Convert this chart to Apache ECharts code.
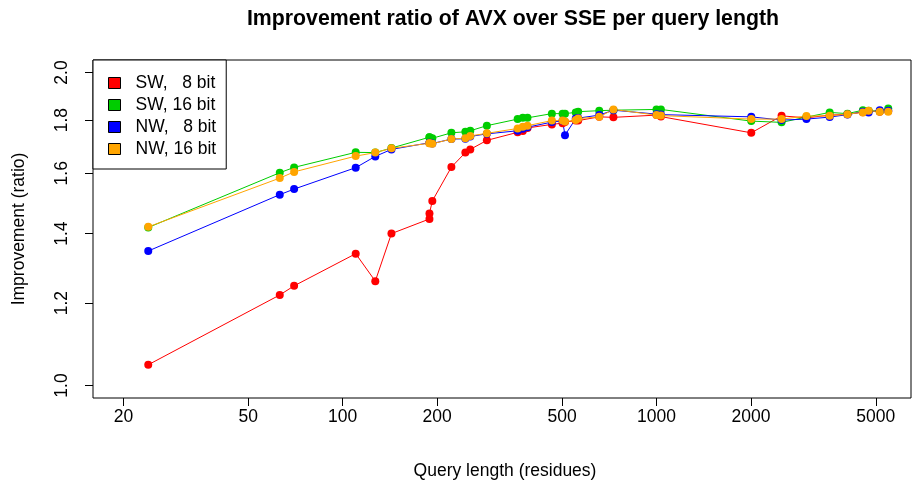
<!DOCTYPE html>
<html>
<head>
<meta charset="utf-8">
<script src="https://cdn.jsdelivr.net/npm/echarts@6/dist/echarts.min.js"></script>
<style>
  html, body { margin: 0; padding: 0; background: #ffffff; }
  #chart { width: 913px; height: 486px; }
</style>
</head>
<body>
<div id="chart"></div>
<script>
// Query lengths (residues) of the benchmark queries
const queryLengths = [24, 63, 70, 110, 127, 143, 189, 189, 193, 222, 246, 255, 288,
  361, 375, 388, 464, 502, 511, 553, 563, 657, 729, 1000, 1033,
  2005, 2504, 3005, 3564, 4061, 4548, 4743, 5147, 5478];

// AVX / SSE speed ratio per query
const sw8 = [1.047, 1.222, 1.247, 1.339, 1.260, 1.400, 1.446, 1.464, 1.505, 1.622, 1.675, 1.687, 1.721,
  1.752, 1.757, 1.769, 1.783, 1.788, 1.792, 1.798, 1.798, 1.813, 1.811, 1.820, 1.814,
  1.750, 1.817, 1.809, 1.820, 1.823, 1.832, 1.837, 1.834, 1.837];
const sw16 = [1.419, 1.602, 1.621, 1.676, 1.675, 1.692, 1.733, 1.733, 1.729, 1.750, 1.754, 1.758, 1.778,
  1.804, 1.809, 1.809, 1.826, 1.826, 1.826, 1.831, 1.834, 1.838, 1.840, 1.843, 1.843,
  1.796, 1.791, 1.812, 1.831, 1.826, 1.840, 1.838, 1.836, 1.847];
const nw8 = [1.347, 1.526, 1.545, 1.620, 1.661, 1.687, 1.712, 1.711, 1.709, 1.726, 1.727, 1.736, 1.746,
  1.758, 1.766, 1.772, 1.792, 1.797, 1.741, 1.806, 1.808, 1.820, 1.840, 1.824, 1.822,
  1.813, 1.800, 1.804, 1.812, 1.822, 1.834, 1.831, 1.840, 1.838];
const nw16 = [1.421, 1.583, 1.605, 1.662, 1.675, 1.691, 1.710, 1.710, 1.708, 1.726, 1.729, 1.738, 1.748,
  1.767, 1.774, 1.778, 1.798, 1.798, 1.794, 1.800, 1.806, 1.813, 1.843, 1.820, 1.818,
  1.804, 1.804, 1.816, 1.817, 1.824, 1.831, 1.838, 1.834, 1.834];

const seriesNames = ['SW,   8 bit', 'SW, 16 bit', 'NW,   8 bit', 'NW, 16 bit'];
const seriesColors = ['#ff0000', '#00cd00', '#0000ff', '#ffa500'];
const xTicks = [20, 50, 100, 200, 500, 1000, 2000, 5000];
const yTicks = [1.0, 1.2, 1.4, 1.6, 1.8, 2.0];

const FONT = "'Liberation Sans', Arial, Helvetica, sans-serif";

const chart = echarts.init(document.getElementById('chart'), null, { renderer: 'canvas' });

function pairs(values) {
  return queryLengths.map((q, i) => [q, values[i]]);
}

const seriesValues = [sw8, sw16, nw8, nw16];

const option = {
  animation: false,
  backgroundColor: '#ffffff',
  title: {
    text: 'Improvement ratio of AVX over SSE per query length',
    left: 508,
    top: 4,
    textAlign: 'center',
    textStyle: { fontFamily: FONT, fontSize: 21.3, fontWeight: 'bold', color: '#000' }
  },
  legend: {
    orient: 'vertical',
    left: 93,
    top: 60,
    padding: [14, 10, 11, 15],
    itemGap: 4,
    itemWidth: 12,
    itemHeight: 11,
    icon: 'rect',
    backgroundColor: '#ffffff',
    borderColor: '#000000',
    borderWidth: 1,
    borderRadius: 0,
    itemStyle: { borderColor: '#000000', borderWidth: 1 },
    textStyle: { fontFamily: FONT, fontSize: 17.5, color: '#000', lineHeight: 16, padding: [0, 0, 0, 10] },
    data: seriesNames
  },
  grid: {
    left: 93,
    right: 2,
    top: 60,
    bottom: 88,
    show: true,
    borderColor: '#000000',
    borderWidth: 1,
    backgroundColor: 'transparent',
    containLabel: false,
    outerBoundsMode: 'none'
  },
  xAxis: {
    type: 'log',
    logBase: 10,
    min: 16.0,
    max: 6474,
    name: 'Query length (residues)',
    nameLocation: 'middle',
    nameGap: 64,
    nameTextStyle: { fontFamily: FONT, fontSize: 17.5, color: '#000', padding: [0, 0, 0, 6] },
    axisLine: { show: false },
    axisTick: { show: true, length: 8, customValues: xTicks, lineStyle: { color: '#000' } },
    axisLabel: {
      show: true, customValues: xTicks, margin: 10,
      fontFamily: FONT, fontSize: 17.5, color: '#000',
      formatter: (v) => String(Math.round(v))
    },
    splitLine: { show: false },
    minorTick: { show: false }
  },
  yAxis: {
    type: 'log',
    logBase: 10,
    min: 0.9727,
    max: 2.0563,
    name: 'Improvement (ratio)',
    nameLocation: 'middle',
    nameGap: 65,
    nameTextStyle: { fontFamily: FONT, fontSize: 17.5, color: '#000' },
    axisLine: { show: false },
    axisTick: { show: true, length: 8, customValues: yTicks, lineStyle: { color: '#000' } },
    axisLabel: {
      show: true, customValues: yTicks, margin: 22, rotate: 90,
      fontFamily: FONT, fontSize: 17.5, color: '#000',
      formatter: (v) => Number(v).toFixed(1)
    },
    splitLine: { show: false },
    minorTick: { show: false }
  },
  series: seriesNames.map((name, k) => ({
    name: name,
    type: 'line',
    data: pairs(seriesValues[k]),
    symbol: 'circle',
    symbolSize: 8,
    showSymbol: true,
    color: seriesColors[k],
    itemStyle: { color: seriesColors[k] },
    lineStyle: { color: seriesColors[k], width: 1 },
    emphasis: { disabled: true },
    clip: true
  }))
};

chart.setOption(option);
</script>
</body>
</html>
